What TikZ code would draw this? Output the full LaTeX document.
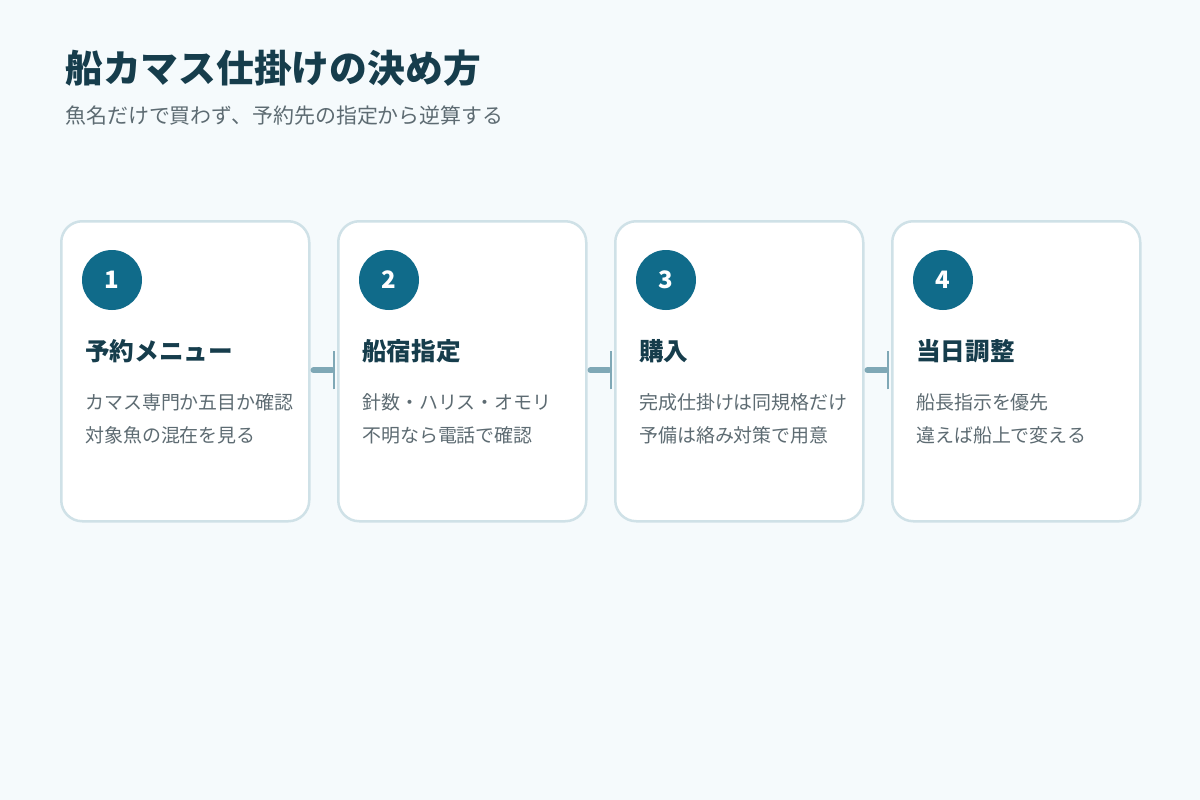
\documentclass[tikz,border=0pt]{standalone}
\usepackage{fontspec}
\setmainfont{Noto Sans CJK JP}
\newfontfamily\jp{Noto Sans CJK JP}
\usetikzlibrary{arrows.meta}
\definecolor{bgc}{HTML}{F5FAFC}
\definecolor{cardborder}{HTML}{CFE1E7}
\definecolor{circfill}{HTML}{106B8A}
\definecolor{titlec}{HTML}{163D4C}
\definecolor{bodyc}{HTML}{5D6B72}
\definecolor{conc}{HTML}{7FA8B6}
\tikzset{
  card/.style={draw=cardborder, line width=2.5pt, fill=white, rounded corners=21pt, minimum width=248pt, minimum height=300pt, anchor=north west, inner sep=0pt},
  numcirc/.style={circle, fill=circfill, minimum size=60pt, inner sep=0pt, text=white, font=\jp\bfseries\fontsize{24}{28}\selectfont},
  cardtitle/.style={anchor=west, inner sep=0pt, text=titlec, font=\jp\bfseries\fontsize{24.6}{28}\selectfont},
  cardbody/.style={anchor=west, inner sep=0pt, text=bodyc, font=\jp\fontsize{18.95}{22}\selectfont},
  conn/.style={draw=conc, line width=6pt, line cap=round, shorten >=5pt, shorten <=3pt},
  connbar/.style={draw=conc, line width=2.5pt}
}
\begin{document}
\begin{tikzpicture}[x=1pt,y=-1pt]
\path[fill=bgc] (0,0) rectangle (1200,800);
\useasboundingbox (0,0) rectangle (1200,800);

\node[anchor=west, inner sep=0pt, text=titlec, font=\jp\bfseries\fontsize{37.8}{44}\selectfont] (title) at (65,68) {船カマス仕掛けの決め方};
\node[anchor=west, inner sep=0pt, text=bodyc, font=\jp\fontsize{20.95}{25}\selectfont] (subtitle) at (65,116) {魚名だけで買わず、予約先の指定から逆算する};

\foreach \i/\x/\t/\a/\b in {
  1/60/予約メニュー/カマス専門か五目か確認/対象魚の混在を見る,
  2/337/船宿指定/針数・ハリス・オモリ/不明なら電話で確認,
  3/614/購入/完成仕掛けは同規格だけ/予備は絡み対策で用意,
  4/891/当日調整/船長指示を優先/違えば船上で変える}{
  \node[card] (card\i) at (\x,220) {};
  \node[numcirc] (num\i) at (\x+52,280) {\i};
  \node[cardtitle] (ttl\i) at (\x+25,351) {\t};
  \node[cardbody] (la\i) at (\x+25,402) {\a};
  \node[cardbody] (lb\i) at (\x+25,435) {\b};
}

\foreach \p/\n in {1/2,2/3,3/4}{
  \coordinate (s\p) at ([yshift=1pt]card\p.east);
  \coordinate (e\p) at ([yshift=1pt]card\n.west);
  \draw[conn] (s\p) -- (e\p);
  \draw[connbar] ([xshift=-3pt,yshift=-19pt]e\p) -- ([xshift=-3pt,yshift=19pt]e\p);
}
\end{tikzpicture}
\end{document}
